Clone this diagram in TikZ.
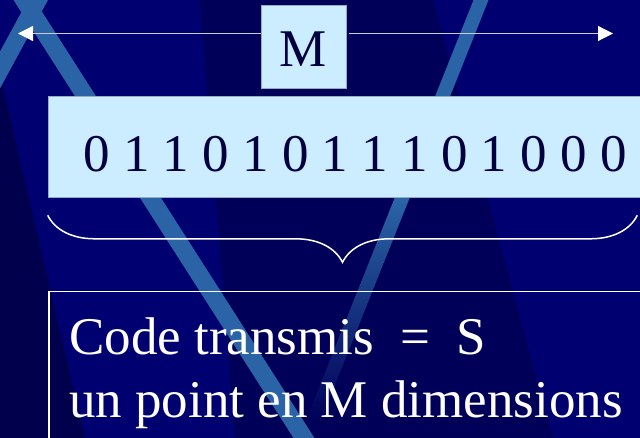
\documentclass[tikz,border=0pt]{standalone}
\usepackage{fontspec}
\setmainfont{Liberation Serif}
\usepackage{xcolor}
\usepackage{tikz}
\usetikzlibrary{positioning, arrows.meta, decorations.pathreplacing}
\definecolor{slidenavy}{RGB}{0,0,112}
\definecolor{shadenavy}{RGB}{0,0,88}
\definecolor{deepnavy}{RGB}{0,0,76}
\definecolor{stripeblue}{RGB}{42,100,166}
\definecolor{boxblue}{RGB}{204,236,255}
\definecolor{boxedge}{RGB}{150,170,195}
\definecolor{inknavy}{RGB}{0,0,64}
\definecolor{arrowgrey}{RGB}{200,205,225}

\begin{document}
\begin{tikzpicture}[
    x=1pt, y=-1pt,
    bigfont/.style={font=\fontsize{53pt}{62pt}\selectfont},
    bluebox/.style={rectangle, draw=boxedge, fill=boxblue, line width=0.6pt, inner sep=0pt, text=inknavy, bigfont},
    outlinebox/.style={rectangle, draw=white, line width=1.5pt, inner sep=0pt, anchor=north west},
    whitetext/.style={bigfont, text=white, inner sep=0pt, anchor=base west},
    spanarrow/.style={-{Triangle[length=15pt, width=15pt, fill=white, color=white]}, draw=arrowgrey, line width=1.2pt},
    bracket/.style={decorate, decoration={brace, mirror, amplitude=47pt}, draw=white, line width=1.5pt}
]

% Background
\useasboundingbox (0,0) rectangle (640,438);
\clip (0,0) rectangle (640,438);
\fill[slidenavy] (0,0) rectangle (640,438);
\fill[shadenavy] (200,0) -- (433,0) -- (553,438) -- (235,438) -- cycle;
\fill[deepnavy] (0,75) -- (85,438) -- (0,438) -- cycle;

% Stripes
\fill[stripeblue] (13.5,0) -- (34.5,0) -- (314.5,438) -- (293.5,438) -- cycle;
\fill[stripeblue] (28,0) -- (48,0) -- (-6.3,100) -- (-26.3,100) -- cycle;
\fill[stripeblue] (473.5,0) -- (488.5,0) -- (408.8,200) -- (393.8,200) -- cycle;
\shade[top color=stripeblue, bottom color=shadenavy] (393.8,200) -- (408.8,200) -- (321.1,420) -- (306.1,420) -- cycle;

% Length M
\node[bluebox, minimum width=85pt, minimum height=83pt, text height=40pt, text depth=0pt] (mbox) at (303.5,46.5) {M};
\coordinate (lefttip) at (18,33.5);
\coordinate (righttip) at (613,33.5);
\draw[spanarrow] (mbox.west |- lefttip) -- (lefttip);
\draw[spanarrow] ([xshift=3pt]mbox.east |- righttip) -- (righttip);

% Bits
\node[bluebox, minimum width=592pt, minimum height=101pt, text height=50pt, text depth=0pt] (bits) at (344,146.5) {\hspace{22pt}0 1 1 0 1 0 1 1 1 0 1 0 0 0};

% Brace
\draw[bracket] ([yshift=-18pt]bits.south west) -- ([xshift=-3pt, yshift=-18pt]bits.south east);

% Code
\node[outlinebox, minimum width=600pt, minimum height=160pt] (codebox) at (48,291) {};
\node[whitetext] (codeline) at (69,355) {Code transmis\ \ =\ \ S};
\node[whitetext] (pointline) at ([yshift=-62pt]codeline.base west) {un point en M dimensions};

\end{tikzpicture}
\end{document}
